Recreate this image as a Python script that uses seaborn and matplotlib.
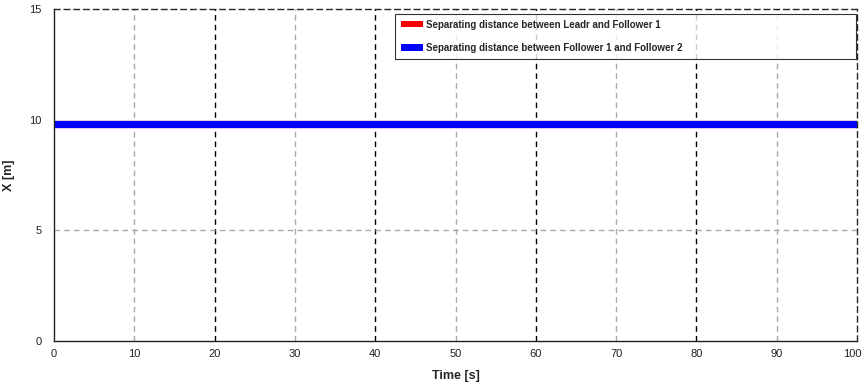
import numpy as np
import pandas as pd
import matplotlib
matplotlib.use("Agg")
import matplotlib.pyplot as plt
import matplotlib.transforms as mtransforms
from matplotlib.patches import Patch
import seaborn as sns

time_s = [0, 100]
dist_leader_f1 = [9.8, 9.8]
dist_f1_f2 = [9.8, 9.8]
labels = ["Separating distance between Leadr and Follower 1",
          "Separating distance between Follower 1 and Follower 2"]
colors = ["red", "blue"]

df = pd.DataFrame({
    "Time": time_s * 2,
    "X": dist_leader_f1 + dist_f1_f2,
    "Series": [labels[0]] * len(time_s) + [labels[1]] * len(time_s),
})

sns.set_style("white")
plt.rcParams["font.family"] = ["Liberation Sans", "DejaVu Sans"]

fig = plt.figure(figsize=(8.63, 3.86), dpi=100)
ax = fig.add_axes([54 / 863, 1 - 341 / 386, 803 / 863, 332 / 386])

sns.lineplot(data=df, x="Time", y="X", hue="Series", palette=colors,
             linewidth=5.2, solid_capstyle="butt", legend=False, ax=ax)

ax.set_xlim(0, 100)
ax.set_ylim(0, 15)
ax.set_xticks(range(0, 101, 10))
ax.set_yticks([0, 5, 10, 15])

# alternating grey / black dashed grid lines like the original
for xv in range(10, 100, 10):
    col = "#aaaaaa" if (xv // 10) % 2 == 1 else "black"
    ax.axvline(xv, color=col, ls=(0, (4, 3)), lw=1, zorder=0)
ax.axhline(5, color="#aaaaaa", ls=(0, (4, 3)), lw=1, zorder=0)

for side in ["top", "right"]:
    ax.spines[side].set_linestyle((0, (4, 3)))
for side in ["left", "bottom"]:
    ax.spines[side].set_color("#222222")
for s in ax.spines.values():
    s.set_linewidth(1)

ax.tick_params(axis="both", labelsize=8, length=0, colors="#222222")
ax.tick_params(axis="x", pad=6)
ax.tick_params(axis="y", pad=9)
ax.set_xlabel("Time [s]", fontsize=9, fontweight="bold", labelpad=8)
ax.set_ylabel("X [m]", fontsize=9, fontweight="bold", labelpad=10)

# keep the "100" label inside the canvas
fig.canvas.draw()
last = ax.get_xticklabels()[-1]
last.set_transform(last.get_transform() +
                   mtransforms.ScaledTranslation(-5 / 100, 0, fig.dpi_scale_trans))

handles = [Patch(facecolor=c, edgecolor="none") for c in colors]
leg = ax.legend(handles, labels, loc="upper left",
                bbox_to_anchor=(0.425, 0.985, 0.574, 0.0), mode="expand",
                prop={"weight": "bold", "size": 7},
                frameon=True, fancybox=False, edgecolor="black",
                handlelength=2.3, handleheight=0.6, handletextpad=0.25,
                borderaxespad=0.0, borderpad=0.6, labelspacing=1.35)
leg.get_frame().set_linewidth(0.8)

fig.savefig("out.png", dpi=100)
